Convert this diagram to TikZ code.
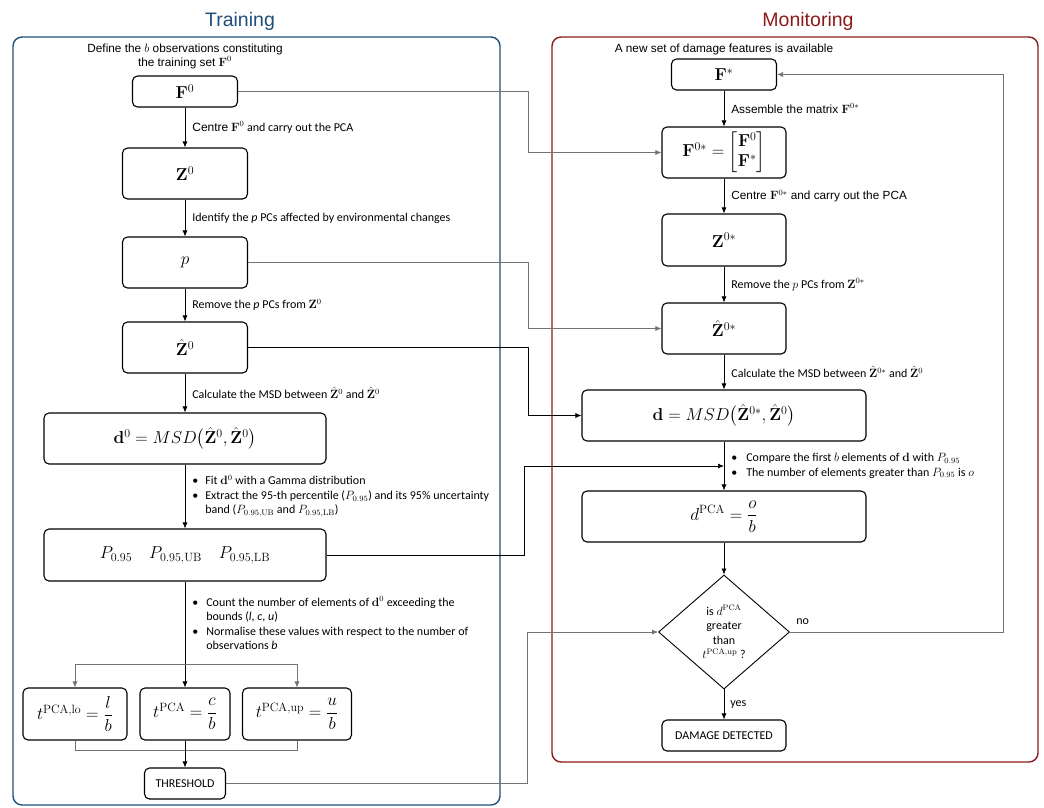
\documentclass[tikz,border=0pt]{standalone}
\usepackage{amsmath,amssymb}
\usepackage[no-math]{fontspec}
\setmainfont{Carlito}
\newfontfamily\arialfont{Liberation Sans}
\usepackage{xcolor}
\usetikzlibrary{positioning,arrows.meta,shapes.geometric}
\definecolor{trainblue}{HTML}{1F4E79}
\definecolor{monred}{HTML}{8B1A1A}

\begin{document}
\begin{tikzpicture}[x=1pt, y=-1pt,
      box/.style={draw, rectangle, rounded corners=5pt, line width=1.1pt, align=center,
                  inner sep=2pt, font=\fontsize{17}{20}\selectfont},
      tbox/.style={box, minimum height=52pt, font=\fontsize{18}{21}\selectfont},
      smallbox/.style={box, minimum height=31pt, font=\fontsize{12}{14}\selectfont},
      lbl/.style={font=\fontsize{12}{14.5}\selectfont, inner sep=1pt, align=left},
      albl/.style={lbl, font=\arialfont\fontsize{11.8}{14}\selectfont},
      frame/.style={rounded corners=9pt, line width=1.4pt},
      title/.style={font=\arialfont\fontsize{19.5}{22}\selectfont},
      arrow/.style={-{Latex[length=6pt,width=5pt]}, line width=0.7pt},
      garrow/.style={arrow, draw=black!55},
      gline/.style={line width=0.7pt, draw=black!55},
    ]
    \useasboundingbox (0,0) rectangle (1044,807);

    % frames and titles
    \draw[frame, draw=trainblue] (13,37) rectangle (500,805);
    \draw[frame, draw=monred] (552,37) rectangle (1038,762);
    \node[title, text=trainblue] (traint) at (240,21) {Training};
    \node[title, text=monred] (mont) at (808,21) {Monitoring};

    % training
    \node[albl, align=center] (def) at (185,56) {Define the $b$ observations constituting\\the training set $\mathbf{F}^0$};
    \node[box, minimum width=105pt, minimum height=31pt] (F0) at (185,91.5) {$\mathbf{F}^0$};
    \node[box, minimum width=125pt, minimum height=51pt] (Z0) at (185,173.5) {$\mathbf{Z}^0$};
    \node[box, minimum width=125pt, minimum height=51pt] (p) at (185,262.5) {$p$};
    \node[box, minimum width=125pt, minimum height=51pt] (Zh0) at (185,347.5) {$\hat{\mathbf{Z}}^0$};
    \node[box, minimum width=282pt, minimum height=51pt] (d0) at (185,438.5)
      {$\mathbf{d}^0 = MSD\bigl(\hat{\mathbf{Z}}^0, \hat{\mathbf{Z}}^0\bigr)$};
    \node[box, minimum width=282pt, minimum height=52pt] (P) at (185,555)
      {$P_{0.95} \quad P_{0.95,\mathrm{UB}} \quad P_{0.95,\mathrm{LB}}$};
    \node[tbox, minimum width=104pt] (tlo) at (75,714) {$t^{\mathrm{PCA,lo}} = \dfrac{l}{b}$};
    \node[tbox, minimum width=90pt] (tc) at (185,714) {$t^{\mathrm{PCA}} = \dfrac{c}{b}$};
    \node[tbox, minimum width=109pt] (tup) at (297,714) {$t^{\mathrm{PCA,up}} = \dfrac{u}{b}$};
    \node[smallbox, minimum width=81pt] (thr) at (185,783.5) {THRESHOLD};
    \coordinate (split) at (185,664);
    \coordinate (merge) at (185,750);

    \draw[arrow] (F0) -- node[lbl, midway, right=6pt] {{\arialfont Centre} $\mathbf{F}^0$ and carry out the PCA} (Z0);
    \draw[arrow] (Z0) -- node[lbl, midway, right=6pt] {Identify the \textit{p} PCs affected by environmental changes} (p);
    \draw[arrow] (p) -- node[lbl, midway, right=6pt] {Remove the \textit{p} PCs from $\mathbf{Z}^0$} (Zh0);
    \draw[arrow] (Zh0) -- node[lbl, midway, right=6pt] {Calculate the MSD between $\hat{\mathbf{Z}}^0$ and $\hat{\mathbf{Z}}^0$} (d0);
    \draw[arrow] (d0) -- node[lbl, midway, right=6pt] {%
      \begin{tabular}{@{}l@{\hspace{7pt}}l@{}}
        \textbullet & Fit $\mathbf{d}^0$ with a Gamma distribution\\
        \textbullet & Extract the 95-th percentile ($P_{0.95}$) and its 95\% uncertainty\\
                    & band ($P_{0.95,\mathrm{UB}}$ and $P_{0.95,\mathrm{LB}}$)
      \end{tabular}} (P);
    \draw[arrow] (P) -- node[lbl, pos=0.41, right=6pt] {%
      \begin{tabular}{@{}l@{\hspace{8pt}}l@{}}
        \textbullet & Count the number of elements of $\mathbf{d}^0$ exceeding the\\
                    & bounds (\textit{l}, \textit{c}, \textit{u})\\
        \textbullet & Normalise these values with respect to the number of\\
                    & observations \textit{b}
      \end{tabular}} (tc);
    \draw[garrow] (split) -| (tlo);
    \draw[garrow] (split) -| (tup);
    \draw[gline] (tlo) |- (merge) -| (tup);
    \draw[arrow] (tc) -- (thr);

    % monitoring
    \node[albl] (newset) at (724,49) {A new set of damage features is available};
    \node[box, minimum width=105pt, minimum height=31pt] (Fs) at (724,74.5) {$\mathbf{F}^*$};
    \node[box, minimum width=124pt, minimum height=51pt] (F0s) at (724,152.5)
      {$\mathbf{F}^{0*} = \begin{bmatrix}\mathbf{F}^0\\ \mathbf{F}^*\end{bmatrix}$};
    \node[box, minimum width=124pt, minimum height=52pt] (Z0s) at (724,240) {$\mathbf{Z}^{0*}$};
    \node[box, minimum width=124pt, minimum height=51pt] (Zh0s) at (724,328.5) {$\hat{\mathbf{Z}}^{0*}$};
    \node[box, minimum width=284pt, minimum height=51pt] (d) at (724,415.5)
      {$\mathbf{d} = MSD\bigl(\hat{\mathbf{Z}}^{0*}, \hat{\mathbf{Z}}^0\bigr)$};
    \node[box, minimum width=284pt, minimum height=51pt] (dPCA) at (724,516.5)
      {$d^{\mathrm{PCA}} = \dfrac{o}{b}$};
    \node[diamond, draw, line width=0.9pt, minimum width=131pt, minimum height=114pt, inner sep=0pt,
          align=center, font=\fontsize{12}{14.5}\selectfont] (dia) at (724,632)
      {is $d^{\mathrm{PCA}}$\\greater\\than\\$t^{\mathrm{PCA,up}}$ ?};
    \node[smallbox, minimum width=124pt] (dd) at (724,735.5) {DAMAGE DETECTED};
    \coordinate (join) at (724,466);

    \draw[arrow] (Fs) -- node[albl, midway, right=6pt] {Assemble the matrix $\mathbf{F}^{0*}$} (F0s);
    \draw[arrow] (F0s) -- node[albl, midway, right=6pt] {Centre $\mathbf{F}^{0*}$ and carry out the PCA} (Z0s);
    \draw[arrow] (Z0s) -- node[lbl, midway, right=6pt] {Remove the $p$ PCs from $\mathbf{Z}^{0*}$} (Zh0s);
    \draw[arrow] (Zh0s) -- node[lbl, midway, right=6pt] {Calculate the MSD between $\hat{\mathbf{Z}}^{0*}$ and $\hat{\mathbf{Z}}^0$} (d);
    \draw[arrow] (d) -- node[lbl, midway, right=6pt] {%
      \begin{tabular}{@{}l@{\hspace{9pt}}l@{}}
        \textbullet & Compare the first $b$ elements of $\mathbf{d}$ with $P_{0.95}$\\
        \textbullet & The number of elements greater than $P_{0.95}$ is $o$
      \end{tabular}} (dPCA);
    \draw[arrow] (dPCA) -- (dia);
    \draw[arrow] (dia) -- node[lbl, midway, right=5pt] {yes} (dd);
    \draw[garrow] (dia.east) -- node[lbl, pos=0, anchor=south west, xshift=5pt, yshift=6pt] {no}
      ++(213,0) |- (Fs);

    % links from training to monitoring
    \draw[garrow] (F0.east) -- ++(290,0) |- (F0s);
    \draw[garrow] (p.east) -- ++(280,0) |- (Zh0s);
    \draw[arrow] (Zh0.east) -- ++(280,0) |- (d);
    \draw[arrow] (P.east) -- ++(198,0) |- (join);
    \draw[garrow] (thr.east) -- ++(301,0) |- (dia);
  \end{tikzpicture}
\end{document}
